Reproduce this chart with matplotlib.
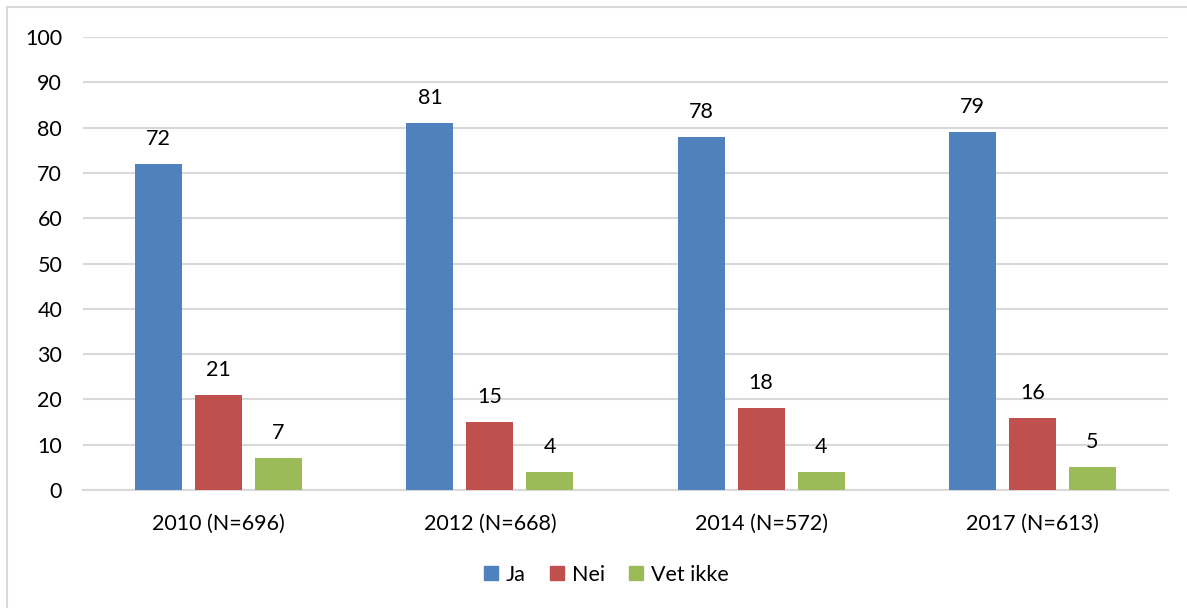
import matplotlib
matplotlib.use("Agg")
import matplotlib.pyplot as plt
from matplotlib.lines import Line2D
import numpy as np

categories = ["2010 (N=696)", "2012 (N=668)", "2014 (N=572)", "2017 (N=613)"]
series_names = ["Ja", "Nei", "Vet ikke"]
ja = [72, 81, 78, 79]
nei = [21, 15, 18, 16]
vet_ikke = [7, 4, 4, 5]
y_ticks = [0, 10, 20, 30, 40, 50, 60, 70, 80, 90, 100]

colors = ["#4F81BD", "#C0504D", "#9BBB59"]
grid_color = "#D9D9D9"

FS = 15.5
plt.rcParams["font.family"] = ["Lato", "DejaVu Sans"]
plt.rcParams["font.size"] = FS

W, H = 1187, 608
fig = plt.figure(figsize=(W / 100, H / 100), dpi=100)
ax = fig.add_axes([83 / W, 1 - 490 / H, (1168 - 83) / W, (490 - 37) / H])

x = np.arange(len(categories))
bar_w = 0.173
step = 0.221
for i, (vals, name) in enumerate(zip([ja, nei, vet_ikke], series_names)):
    pos = x + (i - 1) * step
    bars = ax.bar(pos, vals, width=bar_w, color=colors[i], label=name, zorder=3)
    for b, v in zip(bars, vals):
        ax.annotate(str(v), (b.get_x() + b.get_width() / 2, v),
                    xytext=(0, 15), textcoords="offset pixels",
                    ha="center", va="bottom", fontsize=FS, color="#000000")

ax.set_xlim(-0.5, len(categories) - 0.5)
ax.set_ylim(0, 100)
ax.set_yticks(y_ticks)
ax.set_xticks(x)
ax.set_xticklabels(categories)
ax.yaxis.grid(True, color=grid_color, linewidth=1.5, zorder=0)
ax.set_axisbelow(True)
for s in ["top", "right", "left"]:
    ax.spines[s].set_visible(False)
ax.spines["bottom"].set_color(grid_color)
ax.spines["bottom"].set_linewidth(1.5)
ax.tick_params(axis="both", length=0, labelsize=FS, colors="#000000")
ax.tick_params(axis="y", pad=15)
ax.tick_params(axis="x", pad=17)

handles = [Line2D([0], [0], marker="s", linestyle="none", markersize=10,
                  markerfacecolor=c, markeredgecolor=c) for c in colors]
fig.legend(handles, series_names, loc="center", bbox_to_anchor=(606 / W, 1 - 575 / H),
           ncol=3, frameon=False, handlelength=0.7, handletextpad=0.35,
           columnspacing=1.1, fontsize=FS)

# outer chart frame
fig.add_artist(Line2D([7 / W, 1.0], [1 - 7 / H, 1 - 7 / H], color=grid_color, linewidth=1.5))
fig.add_artist(Line2D([7 / W, 7 / W], [0, 1 - 7 / H], color=grid_color, linewidth=1.5))

fig.savefig("out.png", dpi=100)
